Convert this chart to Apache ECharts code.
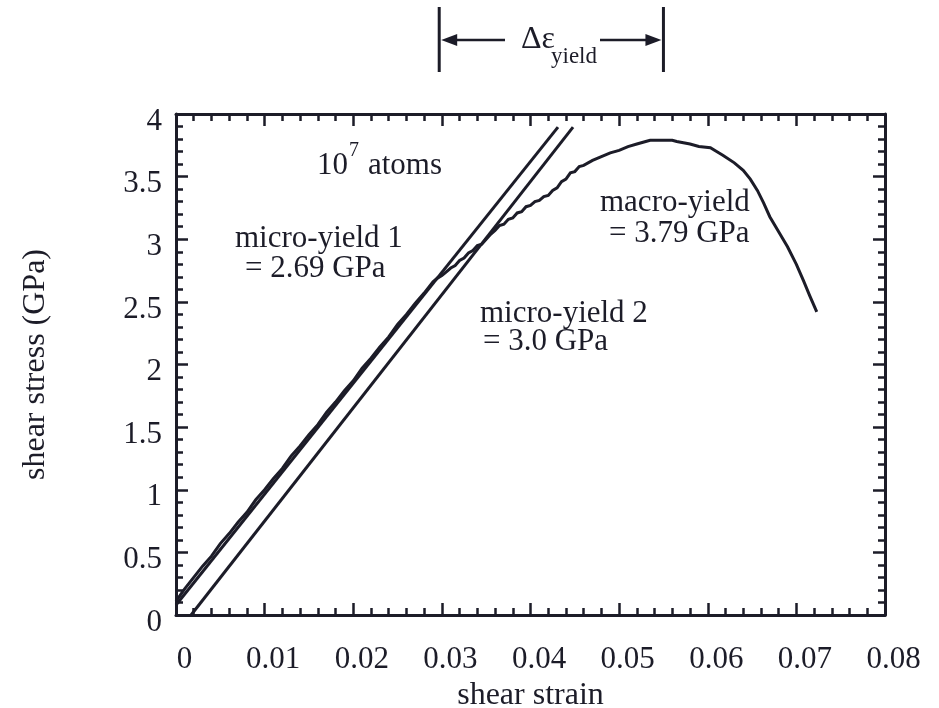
<!DOCTYPE html>
<html>
<head>
<meta charset="utf-8">
<script src="https://cdn.jsdelivr.net/npm/echarts@6/dist/echarts.min.js"></script>
<style>
  html, body { margin: 0; padding: 0; background: #ffffff; }
  #chart { width: 939px; height: 708px; }
</style>
</head>
<body>
<div id="chart"></div>
<script>
// Simulated stress-strain response (shear strain, shear stress in GPa)
const strainCurve = [
  0.0000, 0.0010, 0.0020, 0.0030, 0.0040, 0.0050, 0.0060, 0.0070, 0.0080, 0.0090,
  0.0100, 0.0110, 0.0120, 0.0130, 0.0140, 0.0150, 0.0160, 0.0170, 0.0180, 0.0190,
  0.0200, 0.0210, 0.0220, 0.0230, 0.0240, 0.0250, 0.0260, 0.0270, 0.0280, 0.0290,
  0.0295, 0.0300, 0.0305, 0.0310, 0.0315, 0.0320, 0.0325, 0.0330, 0.0335, 0.0340,
  0.0345, 0.0350, 0.0355, 0.0360, 0.0365, 0.0370, 0.0375, 0.0380, 0.0385, 0.0390,
  0.0395, 0.0400, 0.0405, 0.0410, 0.0415, 0.0420, 0.0425, 0.0430, 0.0435, 0.0440,
  0.0445, 0.0450, 0.0455, 0.0460, 0.0470, 0.0480, 0.0490, 0.0500, 0.0510, 0.0520,
  0.0530, 0.0535, 0.0545, 0.0560, 0.0565, 0.0580, 0.0590, 0.0603, 0.0610, 0.0617,
  0.0630, 0.0640, 0.0648, 0.0656, 0.0663, 0.0670, 0.0680, 0.0690, 0.0700, 0.0708,
  0.0715, 0.0723
];
const stressCurve = [
  0.11, 0.21, 0.30, 0.39, 0.47, 0.57, 0.65, 0.74, 0.82, 0.92,
  1.00, 1.09, 1.17, 1.27, 1.35, 1.44, 1.52, 1.62, 1.70, 1.79,
  1.87, 1.97, 2.05, 2.14, 2.22, 2.32, 2.40, 2.49, 2.57, 2.66,
  2.69, 2.71, 2.74, 2.77, 2.79, 2.83, 2.85, 2.89, 2.91, 2.95,
  2.96, 3.00, 3.04, 3.07, 3.11, 3.12, 3.16, 3.17, 3.21, 3.22,
  3.26, 3.27, 3.30, 3.31, 3.34, 3.35, 3.39, 3.41, 3.46, 3.48,
  3.53, 3.54, 3.58, 3.59, 3.63, 3.66, 3.69, 3.71, 3.74, 3.76,
  3.78, 3.79, 3.79, 3.79, 3.78, 3.76, 3.74, 3.73, 3.70, 3.67,
  3.61, 3.55, 3.48, 3.39, 3.29, 3.18, 3.06, 2.94, 2.80, 2.67,
  2.55, 2.42
];

// Elastic fit lines (start / end points)
const fit1Strain = [0.0, 0.0431];
const fit1Stress = [0.08, 3.895];
const fit2Strain = [0.0017, 0.0448];
const fit2Stress = [0.0, 3.895];

// Strain window between micro-yield 1 and the macro-yield peak
const yieldSpan = [0.0297, 0.0550];

const xTicks = ['0', '0.01', '0.02', '0.03', '0.04', '0.05', '0.06', '0.07', '0.08'];
const yTicks = ['0', '0.5', '1', '1.5', '2', '2.5', '3', '3.5', '4'];

const INK = '#1c1c28';
const FONT = 'Liberation Serif';

const zip = (xs, ys) => xs.map((x, i) => [x, ys[i]]);

const chart = echarts.init(document.getElementById('chart'), null, { renderer: 'canvas' });

const tickCommon = () => ({
  axisLine: { show: true, onZero: false, lineStyle: { color: INK, width: 3 } },
  axisTick: { show: true, inside: true, length: 12, lineStyle: { color: INK, width: 2.5 } },
  minorTick: { show: true, splitNumber: 5, length: 7, lineStyle: { color: INK, width: 2.5 } },
  splitLine: { show: false },
  minorSplitLine: { show: false }
});

const xBase = () => Object.assign({ type: 'value', min: 0, max: 0.08, interval: 0.01 }, tickCommon());
const yBase = () => Object.assign({ type: 'value', min: 0, max: 4, interval: 0.5 }, tickCommon());

chart.setOption({
  animation: false,
  backgroundColor: '#ffffff',
  grid: { left: 176, right: 54, top: 114, bottom: 93, containLabel: false, outerBoundsMode: 'none' },
  xAxis: [
    Object.assign(xBase(), {
      position: 'bottom',
      name: 'shear strain',
      nameLocation: 'middle',
      nameGap: 65,
      nameTextStyle: { fontFamily: FONT, fontSize: 32, color: INK },
      axisLabel: {
        fontFamily: FONT, fontSize: 31, color: INK, margin: 29,
        padding: [0, 0, 0, 17],
        formatter: (v) => xTicks[Math.round(v / 0.01)]
      }
    }),
    Object.assign(xBase(), { position: 'top', axisLabel: { show: false } })
  ],
  yAxis: [
    Object.assign(yBase(), {
      position: 'left',
      name: 'shear stress (GPa)',
      nameLocation: 'middle',
      nameGap: 124,
      nameTextStyle: { fontFamily: FONT, fontSize: 32, color: INK },
      axisLabel: {
        color: INK, margin: 14,
        // a short empty first line nudges each value slightly below its tick
        formatter: (v) => '{g|}\n{v|' + yTicks[Math.round(v / 0.5)] + '}',
        rich: {
          g: { height: 15, lineHeight: 15, fontSize: 10 },
          v: { fontFamily: FONT, fontSize: 31, lineHeight: 31, color: INK }
        }
      }
    }),
    Object.assign(yBase(), { position: 'right', axisLabel: { show: false } })
  ],
  series: [
    {
      name: 'fit 1', type: 'line', data: zip(fit1Strain, fit1Stress),
      showSymbol: false, lineStyle: { color: INK, width: 3 }, z: 3
    },
    {
      name: 'fit 2', type: 'line', data: zip(fit2Strain, fit2Stress),
      showSymbol: false, lineStyle: { color: INK, width: 3 }, z: 3
    },
    {
      name: 'simulation', type: 'line', data: zip(strainCurve, stressCurve),
      showSymbol: false, lineStyle: { color: INK, width: 3, join: 'miter' }, z: 4
    }
  ]
});

// Annotations inside the plot
const textStyle = (text, x, y, size) => ({
  type: 'text', x: x, y: y,
  style: { text: text, fill: INK, fontFamily: FONT, fontSize: size || 31, align: 'left', verticalAlign: 'middle' }
});

const xL = chart.convertToPixel({ xAxisIndex: 0 }, yieldSpan[0]);
const xR = chart.convertToPixel({ xAxisIndex: 0 }, yieldSpan[1]);
const arrowY = 40;

chart.setOption({
  graphic: [
    textStyle('10', 317, 166),
    { type: 'text', x: 349, y: 151, style: { text: '7', fill: INK, fontFamily: FONT, fontSize: 20, align: 'left', verticalAlign: 'middle' } },
    textStyle('atoms', 368, 166),
    textStyle('micro-yield 1', 235, 239),
    textStyle('= 2.69 GPa', 245, 269),
    textStyle('micro-yield 2', 480, 314),
    textStyle('= 3.0 GPa', 483, 342),
    textStyle('macro-yield', 600, 203),
    textStyle('= 3.79 GPa', 609, 234),

    // Delta epsilon yield bracket above the plot
    { type: 'line', shape: { x1: xL, y1: 7, x2: xL, y2: 72 }, style: { stroke: INK, lineWidth: 3 } },
    { type: 'line', shape: { x1: xR, y1: 7, x2: xR, y2: 72 }, style: { stroke: INK, lineWidth: 3 } },
    { type: 'line', shape: { x1: xL + 12, y1: arrowY, x2: 505, y2: arrowY }, style: { stroke: INK, lineWidth: 2.5 } },
    { type: 'polygon', shape: { points: [[xL + 2, arrowY], [xL + 18, arrowY - 6], [xL + 18, arrowY + 6]] }, style: { fill: INK } },
    { type: 'line', shape: { x1: 600, y1: arrowY, x2: xR - 12, y2: arrowY }, style: { stroke: INK, lineWidth: 2.5 } },
    { type: 'polygon', shape: { points: [[xR - 2, arrowY], [xR - 18, arrowY - 6], [xR - 18, arrowY + 6]] }, style: { fill: INK } },
    textStyle('\u0394\u03b5', 521, 40, 32),
    textStyle('yield', 551, 57, 23)
  ]
});
</script>
</body>
</html>
